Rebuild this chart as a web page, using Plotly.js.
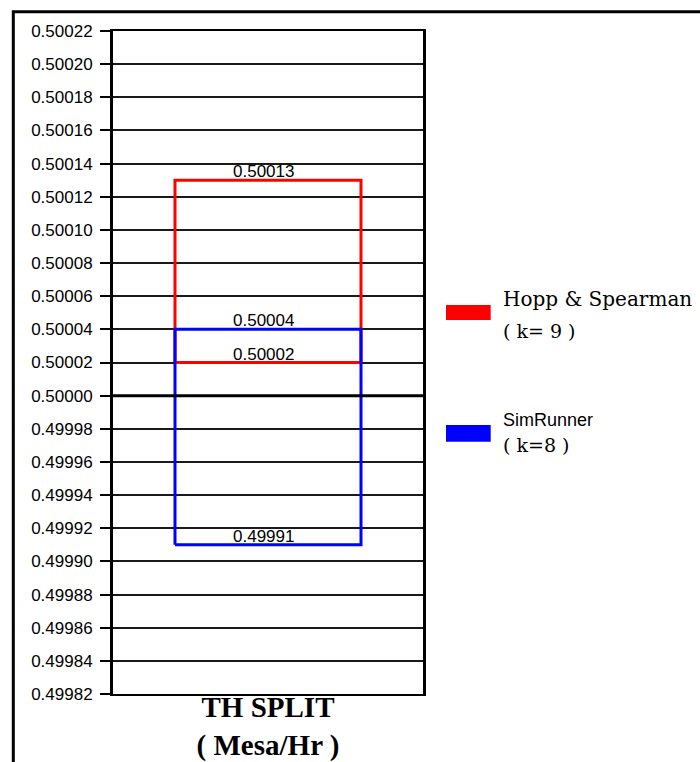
<!DOCTYPE html>
<html>
<head>
<meta charset="utf-8">
<script src="https://cdn.plot.ly/plotly-3.0.1.min.js"></script>
<style>html,body{margin:0;padding:0;background:#fff;}#chart{width:700px;height:762px;}</style>
</head>
<body>
<div id="chart"></div>
<script>
// ---- data ----
const axisTitleLines = ['TH SPLIT', '( Mesa/Hr )'];
const seriesNames = ['Hopp & Spearman', 'SimRunner'];
const kValues = [9, 8];
const upperValues = [0.50013, 0.50004];
const lowerValues = [0.50002, 0.49991];
const seriesColors = ['#ff0000', '#0000ff'];
const referenceValue = 0.50000;
const tickValues = [0.49982, 0.49984, 0.49986, 0.49988, 0.49990, 0.49992, 0.49994, 0.49996, 0.49998,
  0.50000, 0.50002, 0.50004, 0.50006, 0.50008, 0.50010, 0.50012, 0.50014, 0.50016, 0.50018, 0.50020, 0.50022];
const tickLabels = ['0.49982', '0.49984', '0.49986', '0.49988', '0.49990', '0.49992', '0.49994', '0.49996', '0.49998',
  '0.50000', '0.50002', '0.50004', '0.50006', '0.50008', '0.50010', '0.50012', '0.50014', '0.50016', '0.50018', '0.50020', '0.50022'];

// ---- layout constants ----
const boxLeft = 0.2, boxRight = 0.8;
const sans = 'Liberation Sans, Arial, sans-serif';
const serif = 'DejaVu Serif, Liberation Serif, serif';

const traces = seriesNames.map((name, i) => ({
  type: 'scatter', mode: 'lines', name: name, showlegend: false, hoverinfo: 'skip',
  x: [boxLeft, boxRight, boxRight, boxLeft, boxLeft],
  y: [lowerValues[i], lowerValues[i], upperValues[i], upperValues[i], lowerValues[i]],
  line: {color: seriesColors[i], width: 3}
}));

const annotations = [];
seriesNames.forEach((name, i) => {
  [upperValues[i], lowerValues[i]].forEach(v => {
    annotations.push({
      xref: 'x', yref: 'y', x: (boxLeft + boxRight) / 2, y: v, xshift: -5, yshift: -3,
      text: v.toFixed(5), showarrow: false, xanchor: 'center', yanchor: 'bottom',
      font: {family: sans, size: 17, color: '#000'}
    });
  });
});

// legend (drawn in paper coords)
const legendY = [0.5958, 0.4133];
const legendY2 = [0.5475, 0.3756];
const swatchY = [[0.5641, 0.5867], [0.3805, 0.4057]];
const legendFonts = [serif, sans];
const shapes = [];
seriesNames.forEach((name, i) => {
  shapes.push({type: 'rect', xref: 'paper', yref: 'paper', x0: 1.0742, x1: 1.2184,
    y0: swatchY[i][0], y1: swatchY[i][1], fillcolor: seriesColors[i], line: {width: 0}});
  annotations.push({xref: 'paper', yref: 'paper', x: 1.2520, y: legendY[i], xanchor: 'left', yanchor: 'middle',
    showarrow: false, text: name, font: {family: legendFonts[i], size: i === 0 ? 20 : 18, color: '#000'}});
  annotations.push({xref: 'paper', yref: 'paper', x: 1.2500, y: legendY2[i], xanchor: 'left', yanchor: 'middle',
    showarrow: false, text: '( k=' + (i === 0 ? ' ' : '') + kValues[i] + ' )', font: {family: serif, size: 19, color: '#000'}});
});

// thick reference line at 0.5
shapes.push({type: 'line', xref: 'paper', yref: 'y', x0: 0, x1: 1, y0: referenceValue, y1: referenceValue,
  line: {color: '#000', width: 3}});
// outer frame (left and top)
shapes.push({type: 'path', xref: 'paper', yref: 'paper',
  path: 'M -0.3216 -0.2 L -0.3216 1.0291 L 2 1.0291', line: {color: '#000', width: 3}});

const layout = {
  width: 700, height: 762,
  margin: {l: 113, r: 277, t: 31, b: 68},
  paper_bgcolor: '#fff', plot_bgcolor: '#fff',
  font: {family: sans, color: '#000'},
  showlegend: false,
  xaxis: {
    range: [0, 1], showgrid: false, zeroline: false, showticklabels: false, ticks: '',
    showline: true, linecolor: '#000', linewidth: 2, mirror: true,
    title: {text: axisTitleLines.join('<br>'), standoff: 4,
      font: {family: 'Liberation Serif, Times New Roman, serif', size: 29, color: '#000', weight: 'bold'}}
  },
  yaxis: {
    range: [tickValues[0], tickValues[tickValues.length - 1]],
    tickmode: 'array', tickvals: tickValues, ticktext: tickLabels,
    ticks: 'outside', ticklen: 10, tickwidth: 2, tickcolor: '#000', ticklabelstandoff: 4,
    tickfont: {family: sans, size: 17, color: '#000'},
    showgrid: true, gridcolor: '#1a1a1a', gridwidth: 2, zeroline: false,
    showline: true, linecolor: '#000', linewidth: 3, mirror: true
  },
  shapes: shapes,
  annotations: annotations
};

Plotly.newPlot('chart', traces, layout, {displayModeBar: false, staticPlot: true});
</script>
</body>
</html>
